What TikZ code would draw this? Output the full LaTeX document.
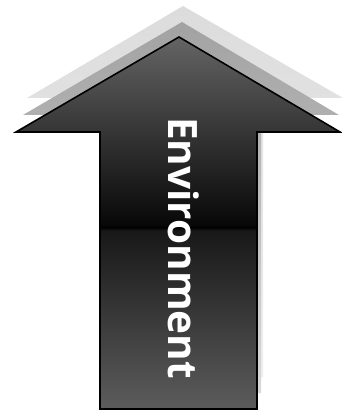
\documentclass[tikz,border=0pt]{standalone}
\usepackage{fontspec}
\newfontfamily\labelfont{Open Sans}
\definecolor{cTop}{HTML}{646464}
\definecolor{cBot}{HTML}{5C5C5C}
\definecolor{cUp}{HTML}{080808}
\definecolor{cLow}{HTML}{181818}
\definecolor{midA}{HTML}{A2A2A2}
\definecolor{midB}{HTML}{D8D8D8}
\definecolor{lightA}{HTML}{DCDCDC}
\definecolor{lightB}{HTML}{EFEFEF}
\pgfdeclareverticalshading{mainshade}{100bp}{color(0bp)=(cBot); color(25bp)=(cBot); color(49bp)=(cLow); color(49.4bp)=(black); color(49.8bp)=(cUp); color(75bp)=(cTop); color(100bp)=(cTop)}
\tikzset{
  arrowbody/.style={line width=1.6pt, draw=black, shading=mainshade, line join=miter},
  shadowlight/.style={top color=lightA, bottom color=lightB, draw=none},
  shadowmid/.style={top color=midA, bottom color=midB, draw=none},
  labeltext/.style={text=white, font=\labelfont\bfseries\fontsize{40.5}{40.5}\selectfont, inner sep=0pt, rotate=-90, anchor=base west}
}
\begin{document}
\begin{tikzpicture}[x=1pt, y=-1pt]
\useasboundingbox (0,0) rectangle (341,414);
% light shadow arrow
\path[shadowlight] (183,6) -- (343,98) -- (263,98) -- (263,377) -- (108,377) -- (108,98) -- (27,98) -- cycle;
% mid shadow arrow
\path[shadowmid] (182,22) -- (339,115) -- (261,115) -- (261,393) -- (104,393) -- (104,115) -- (23,115) -- cycle;
% main arrow
\draw[arrowbody] (179,37) -- (340,132) -- (257,132) -- (257,409) -- (100,409) -- (100,132) -- (16,132) -- cycle;
\node[labeltext] (lbl) at (168.5,117) {Environment};
\end{tikzpicture}
\end{document}
